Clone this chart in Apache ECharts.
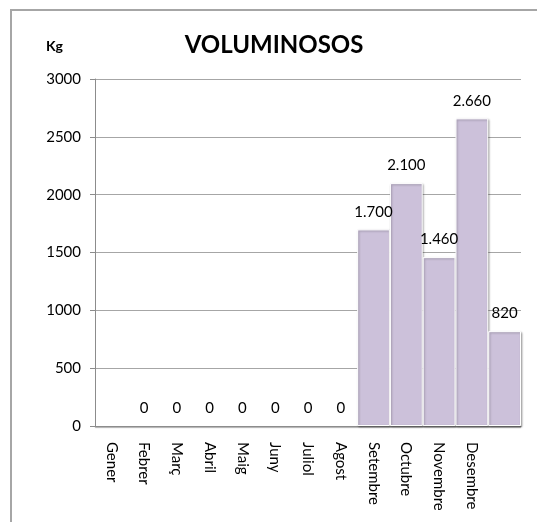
<!DOCTYPE html>
<html>
<head>
<meta charset="utf-8">
<script src="https://cdn.jsdelivr.net/npm/echarts@6/dist/echarts.min.js"></script>
<style>
  html, body { margin: 0; padding: 0; background: #fff; }
  #chart { width: 537px; height: 522px; }
</style>
</head>
<body>
<div id="chart"></div>
<script>
// months (last slot has no name in the original sheet)
const months = ['Gener', 'Febrer', 'Març', 'Abril', 'Maig', 'Juny', 'Juliol', 'Agost',
  'Setembre', 'Octubre', 'Novembre', 'Desembre', '']
// kg per month, Gener left empty
const kg = [null, 0, 0, 0, 0, 0, 0, 0, 1700, 2100, 1460, 2660, 820]
const yTicks = [0, 500, 1000, 1500, 2000, 2500, 3000]

const font = 'Lato, "Open Sans", sans-serif'

// 1700 -> 1.700
function fmtKg(v) {
  return String(v).replace(/\B(?=(\d{3})+(?!\d))/g, '.')
}

// zero bars get no shadow, otherwise a thin line shows on the axis
const barData = kg.map(v => (v === 0
  ? { value: v, itemStyle: { borderWidth: 0, shadowColor: 'rgba(0,0,0,0)' } }
  : v))

const myChart = echarts.init(document.getElementById('chart'))
const option = {
  animation: false,
  textStyle: { fontFamily: font },
  graphic: [
    {
      type: 'rect',
      shape: { x: 11, y: 10, width: 600, height: 600 },
      style: { fill: 'none', stroke: '#a6a6a6', lineWidth: 2 },
      z: -1
    },
    {
      type: 'text',
      left: 46, top: 39,
      style: { text: 'Kg', font: 'bold 14px ' + font, fill: '#000' }
    }
  ],
  title: {
    text: 'VOLUMINOSOS',
    left: 269,
    top: 28,
    textAlign: 'center',
    textStyle: { fontFamily: font, fontSize: 24, fontWeight: 'bold', color: '#000' }
  },
  grid: { left: 95, right: 16, top: 79, bottom: 96 },
  xAxis: {
    type: 'category',
    data: months,
    axisLine: {
      lineStyle: { color: '#8c8c8c', width: 1, shadowColor: 'rgba(0,0,0,0.35)', shadowOffsetY: 1, shadowBlur: 1 }
    },
    axisTick: { show: false },
    axisLabel: {
      interval: 0,
      rotate: -90,
      margin: 16,
      color: '#000',
      fontSize: 15,
      fontFamily: font
    }
  },
  yAxis: {
    type: 'value',
    min: yTicks[0],
    max: yTicks[yTicks.length - 1],
    interval: 500,
    axisLine: { show: true, lineStyle: { color: '#8c8c8c' } },
    axisTick: { show: true, length: 5, lineStyle: { color: '#8c8c8c' } },
    axisLabel: { color: '#000', fontSize: 15, margin: 14, fontFamily: font, formatter: v => String(v) },
    splitLine: { lineStyle: { color: '#a6a6a6' } }
  },
  series: [
    {
      type: 'bar',
      data: barData,
      barCategoryGap: '0%',
      itemStyle: {
        color: '#ccc1da',
        borderColor: '#fff',
        borderWidth: 1,
        shadowColor: 'rgba(0,0,0,0.3)',
        shadowOffsetX: 1,
        shadowOffsetY: 1,
        shadowBlur: 2
      },
      label: {
        show: true,
        position: 'top',
        distance: 10,
        color: '#000',
        fontSize: 15,
        fontFamily: font,
        formatter: p => fmtKg(p.value)
      }
    }
  ]
}
myChart.setOption(option, true)
</script>
</body>
</html>
